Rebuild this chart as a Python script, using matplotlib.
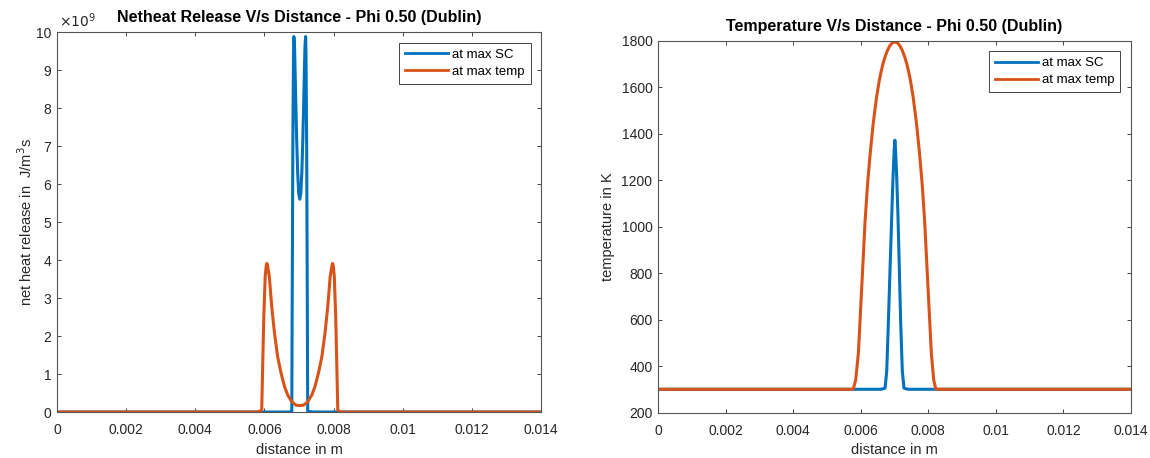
import numpy as np
import matplotlib.pyplot as plt

# distance (m) and net heat release (x 1e9 J/m^3s) at max SC
x_hr_sc = [0, 0.0067, 0.00679, 0.0068, 0.00682, 0.00684, 0.00685, 0.00687, 0.0069, 0.00693,
           0.00696, 0.00699, 0.00702, 0.00705, 0.00708, 0.00711, 0.00714, 0.00717, 0.00719,
           0.0072, 0.00722, 0.00724, 0.00725, 0.0074, 0.014]
hr_sc = [0, 0, 0.02, 2.5, 7.0, 9.5, 9.88, 9.6, 8.4, 7.2,
         6.3, 5.75, 5.6, 5.75, 6.3, 7.2, 8.4, 9.6, 9.88,
         9.5, 7.0, 2.5, 0.02, 0, 0]

# net heat release at max temp
x_hr_temp = [0, 0.0058, 0.00592, 0.00595, 0.00598, 0.00602, 0.00605, 0.00607, 0.00609, 0.00614,
             0.00621, 0.00629, 0.00638, 0.00648, 0.00658, 0.00667, 0.00679, 0.00691, 0.00702,
             0.00713, 0.00725, 0.00737, 0.00746, 0.00756, 0.00766, 0.00775, 0.00783, 0.0079,
             0.00795, 0.00797, 0.00799, 0.00802, 0.00806, 0.00809, 0.00812, 0.0082, 0.014]
hr_temp = [0, 0, 0.05, 1.3, 2.5, 3.56, 3.85, 3.91, 3.85, 3.56,
           2.77, 2.07, 1.46, 1.02, 0.67, 0.45, 0.27, 0.18, 0.17,
           0.18, 0.27, 0.45, 0.67, 1.02, 1.46, 2.07, 2.77, 3.56,
           3.85, 3.91, 3.85, 3.56, 2.5, 1.3, 0.05, 0, 0]

# temperature (K) at max SC
x_t_sc = [0, 0.0066, 0.00672, 0.00677, 0.00682, 0.00687, 0.00692, 0.00696, 0.00699, 0.00701,
          0.00703, 0.00706, 0.0071, 0.00714, 0.00718, 0.00723, 0.00728, 0.0074, 0.014]
t_sc = [300, 300, 305, 380, 598, 830, 1058, 1230, 1330, 1372,
        1330, 1230, 1058, 830, 598, 380, 305, 300, 300]

# temperature (K) at max temp
x_t_temp = [0, 0.0057, 0.00578, 0.00585, 0.00593, 0.00603, 0.00613, 0.0062, 0.00628, 0.00637,
            0.00647, 0.00655, 0.0066, 0.00666, 0.00672, 0.00679, 0.00686, 0.00693, 0.00701,
            0.00709, 0.00716, 0.00723, 0.0073, 0.00736, 0.00742, 0.00747, 0.00755, 0.00765,
            0.00774, 0.00782, 0.00789, 0.00799, 0.00809, 0.00816, 0.00822, 0.0083, 0.014]
t_temp = [300, 300, 302, 340, 455, 741, 1028, 1180, 1315, 1445,
          1559, 1630, 1665, 1702, 1731, 1758, 1778, 1790, 1795,
          1790, 1778, 1758, 1731, 1702, 1665, 1630, 1559, 1445,
          1315, 1180, 1028, 741, 455, 340, 302, 300, 300]

xticks = [0, 0.002, 0.004, 0.006, 0.008, 0.01, 0.012, 0.014]
xticklabels = ["0", "0.002", "0.004", "0.006", "0.008", "0.01", "0.012", "0.014"]

blue = "#0072BD"
orange = "#D95319"
grey = "#262626"

plt.rcParams["font.family"] = ["Liberation Sans", "DejaVu Sans"]
plt.rcParams["font.size"] = 10

fig = plt.figure(figsize=(11.5, 4.58), dpi=100)
ax1 = fig.add_axes([0.0496, 0.1004, 0.4209, 0.8297])
ax2 = fig.add_axes([0.5722, 0.0993, 0.4113, 0.8118])


def style(ax):
    ax.set_xlim(0, 0.014)
    ax.set_xticks(xticks)
    ax.set_xticklabels(xticklabels)
    ax.tick_params(direction="in", length=3, width=0.6, colors=grey,
                   top=True, right=True, labelsize=10, pad=4)
    ax.tick_params(axis="x", pad=8)
    for s in ax.spines.values():
        s.set_color("#555555")
        s.set_linewidth(0.8)
    ax.set_xlabel("distance in m", color=grey, fontsize=10.5, labelpad=4)
    leg = ax.legend(loc="upper right", fancybox=False, framealpha=1,
                    edgecolor=grey, handlelength=3.3, handletextpad=0.3,
                    borderaxespad=0.8, fontsize=9.5, borderpad=0.45, labelspacing=0.35)
    leg.get_frame().set_linewidth(0.6)
    for ln in leg.get_lines():
        ln.set_linewidth(2)


ax1.plot(x_hr_sc, hr_sc, color=blue, lw=2.2, label="at max SC")
ax1.plot(x_hr_temp, hr_temp, color=orange, lw=2.2, label="at max temp")
ax1.set_ylim(0, 10)
ax1.set_yticks(range(0, 11))
ax1.set_ylabel("net heat release in  J/m$^3$s", color=grey, fontsize=10.5, labelpad=1)
ax1.set_title("Netheat Release V/s Distance - Phi 0.50 (Dublin)",
              fontweight="bold", fontsize=11.5, pad=7)
ax1.text(0.005, 1.005, r"$\times10^{9}$", transform=ax1.transAxes,
         fontsize=10, color=grey, ha="left", va="bottom")
style(ax1)

ax2.plot(x_t_sc, t_sc, color=blue, lw=2.2, label="at max SC")
ax2.plot(x_t_temp, t_temp, color=orange, lw=2.2, label="at max temp")
ax2.set_ylim(200, 1800)
ax2.set_yticks(range(200, 1801, 200))
ax2.set_ylabel("temperature in K", color=grey, fontsize=10.5, labelpad=5)
ax2.set_title("Temperature V/s Distance - Phi 0.50 (Dublin)",
              fontweight="bold", fontsize=11.5, pad=7)
style(ax2)

fig.savefig("out.png", dpi=100)
